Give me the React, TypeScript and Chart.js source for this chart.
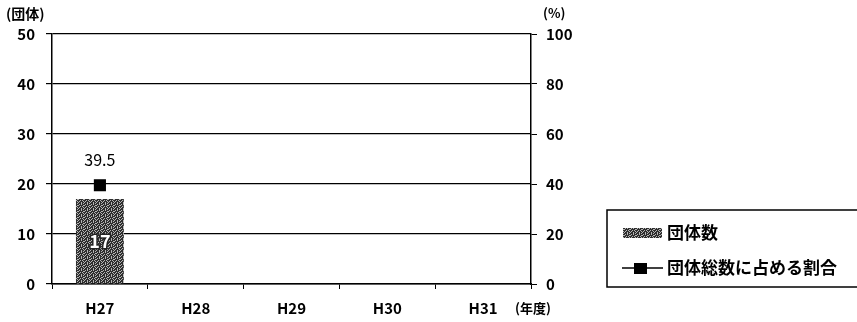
import React, { useEffect, useRef } from "react";
import { Chart, registerables } from "chart.js";

Chart.register(...registerables);

const categories = ["H27", "H28", "H29", "H30", "H31"];
const groupCounts: (number | null)[] = [17, null, null, null, null];
const shareRates: (number | null)[] = [39.5, null, null, null, null];
const leftTicks = [0, 10, 20, 30, 40, 50];
const rightTicks = [0, 20, 40, 60, 80, 100];
const seriesNames = ["団体数", "団体総数に占める割合"];

const FONT = '"Noto Sans CJK JP", "Noto Sans", sans-serif';

function makePattern(ctx: CanvasRenderingContext2D): CanvasPattern | string {
  const mask = [
    "#.#.##",
    ".####.",
    "##.#.#",
    "#.###.",
    ".##.##",
    "###.#.",
  ];
  const c = document.createElement("canvas");
  c.width = 6;
  c.height = 6;
  const p = c.getContext("2d");
  if (!p) return "#555";
  for (let y = 0; y < 6; y++) {
    for (let x = 0; x < 6; x++) {
      p.fillStyle = mask[y][x] === "#" ? "#2e2e2e" : "#b5b5b5";
      p.fillRect(x, y, 1, 1);
    }
  }
  return ctx.createPattern(c, "repeat") || "#555";
}

export default function App() {
  const ref = useRef<HTMLCanvasElement | null>(null);
  useEffect(() => {
    const canvas = ref.current;
    if (!canvas) return;
    const ctx0 = canvas.getContext("2d")!;
    const pattern = makePattern(ctx0);

    const extras = {
      id: "extras",
      afterDatasetsDraw(chart: any) {
        const ctx = chart.ctx as CanvasRenderingContext2D;
        ctx.save();
        // bar value labels
        const barMeta = chart.getDatasetMeta(0);
        barMeta.data.forEach((el: any, i: number) => {
          const v = groupCounts[i];
          if (v == null) return;
          const yMid = (el.y + el.base) / 2;
          ctx.font = `bold 18px ${FONT}`;
          ctx.textAlign = "center";
          ctx.textBaseline = "middle";
          ctx.lineWidth = 3;
          ctx.strokeStyle = "#222";
          ctx.strokeText(String(v), el.x, yMid);
          ctx.fillStyle = "#fff";
          ctx.fillText(String(v), el.x, yMid);
        });
        // line value labels
        const lineMeta = chart.getDatasetMeta(1);
        lineMeta.data.forEach((el: any, i: number) => {
          const v = shareRates[i];
          if (v == null) return;
          ctx.font = `16px ${FONT}`;
          ctx.textAlign = "center";
          ctx.textBaseline = "middle";
          ctx.fillStyle = "#000";
          ctx.fillText(String(v), el.x, el.y - 25);
        });
        // axis unit labels
        ctx.fillStyle = "#000";
        ctx.textBaseline = "middle";
        ctx.textAlign = "left";
        ctx.font = `bold 14px ${FONT}`;
        ctx.fillText("(団体)", 6, 14);
        ctx.font = `bold 13px ${FONT}`;
        ctx.fillText("(%)", 543, 13);
        ctx.fillText("(年度)", 515, 308);

        // legend
        const lx = 607, ly = 210, lw = 260, lh = 77;
        ctx.lineWidth = 1.5;
        ctx.strokeStyle = "#000";
        ctx.strokeRect(lx, ly, lw, lh);
        ctx.fillStyle = pattern as any;
        ctx.fillRect(623, 228, 39, 10);
        ctx.strokeStyle = "#000";
        ctx.lineWidth = 1.5;
        ctx.beginPath();
        ctx.moveTo(622, 268);
        ctx.lineTo(663, 268);
        ctx.stroke();
        ctx.fillStyle = "#000";
        ctx.fillRect(634, 263, 13, 11);
        ctx.font = `bold 17px ${FONT}`;
        ctx.textAlign = "left";
        ctx.textBaseline = "middle";
        ctx.fillText(seriesNames[0], 667, 233);
        ctx.fillText(seriesNames[1], 667, 268);
        ctx.restore();
      },
    };

    const chart = new Chart(canvas, {
      type: "bar",
      data: {
        labels: categories,
        datasets: [
          {
            type: "bar",
            label: seriesNames[0],
            data: groupCounts,
            backgroundColor: pattern as any,
            borderWidth: 0,
            categoryPercentage: 1,
            barPercentage: 0.5,
            yAxisID: "y",
            order: 2,
          },
          {
            type: "line",
            label: seriesNames[1],
            data: shareRates,
            borderColor: "#000",
            backgroundColor: "#000",
            pointStyle: "rect",
            pointRadius: 7.5,
            pointHoverRadius: 7.5,
            borderWidth: 1.5,
            yAxisID: "y2",
            order: 1,
          } as any,
        ],
      },
      options: {
        animation: false,
        responsive: true,
        maintainAspectRatio: false,
        layout: { padding: { left: 0, right: 270, top: 34, bottom: 0 } },
        plugins: {
          legend: { display: false },
          tooltip: { enabled: false },
          title: { display: false },
        },
        scales: {
          x: {
            offset: true,
            grid: {
              offset: true,
              drawOnChartArea: false,
              drawTicks: true,
              tickLength: 5,
              color: "#000",
            },
            border: { color: "#000", width: 1.5 },
            ticks: {
              color: "#000",
              font: { family: FONT, size: 15, weight: "bold" },
              padding: 10,
              maxRotation: 0,
            },
            afterFit: (s: any) => {
              s.height = 38;
            },
          },
          y: {
            position: "left",
            min: 0,
            max: 50,
            afterBuildTicks: (s: any) => {
              s.ticks = leftTicks.map((v) => ({ value: v }));
            },
            grid: { color: "#000", lineWidth: 1.2, tickLength: 6 },
            border: { color: "#000", width: 1.5 },
            ticks: {
              color: "#000",
              font: { family: FONT, size: 15, weight: "bold" },
              padding: 11,
            },
            afterFit: (s: any) => {
              s.width = 52;
            },
          },
          y2: {
            position: "right",
            min: 0,
            max: 100,
            afterBuildTicks: (s: any) => {
              s.ticks = rightTicks.map((v) => ({ value: v }));
            },
            grid: { drawOnChartArea: false, color: "#000", tickLength: 6 },
            border: { color: "#000", width: 1.5 },
            ticks: {
              color: "#000",
              font: { family: FONT, size: 15, weight: "bold" },
              padding: 9,
            },
            afterFit: (s: any) => {
              s.width = 56;
            },
          },
        },
      },
      plugins: [extras],
    });
    return () => chart.destroy();
  }, []);

  return (
    <div style={{ position: "absolute", left: 0, top: 0, width: 857, height: 322, background: "#fff" }}>
      <canvas ref={ref} />
    </div>
  );
}
